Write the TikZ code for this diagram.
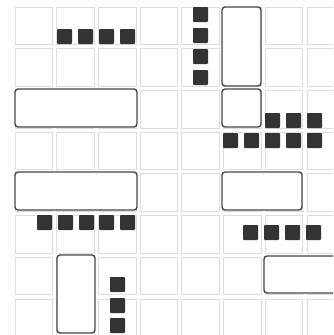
\documentclass[tikz,border=0pt]{standalone}
\begin{document}
\begin{tikzpicture}[x=1pt,y=-1pt,
  cell/.style={draw=black!13,line width=0.8pt,fill=white},
  blk/.style={draw=black!72,line width=1.4pt,fill=white,rounded corners=3pt},
  sq/.style={fill=black!80,rounded corners=0.8pt}]
\useasboundingbox (0,0) rectangle (333,335);
\fill[white] (0,0) rectangle (333,335);
\begin{scope}
\clip (0,0) rectangle (333,335);
\foreach \i in {0,...,7}{
  \foreach \j in {0,...,7}{
    \draw[cell] ({15+41.7*\i},{7+41.7*\j}) rectangle ++(37.5,37.5);
  }
}
% rounded blocks
\draw[blk] (15,89) rectangle (137,127);
\draw[blk] (222,7) rectangle (261,86);
\draw[blk] (222,89) rectangle (261,127);
\draw[blk] (15,172) rectangle (137,210);
\draw[blk] (222,172) rectangle (302,210);
\draw[blk] (264,256) rectangle (350,293);
\draw[blk] (57,255) rectangle (95,333);
% black squares
\foreach \x in {57,78,99,120} \fill[sq] (\x,29) rectangle ++(15,15);
\foreach \y in {7,28,49,70} \fill[sq] (193,\y) rectangle ++(15,15);
\foreach \x in {265,286,307} \fill[sq] (\x,113) rectangle ++(15,15);
\foreach \x in {223,244,265,286,307} \fill[sq] (\x,133) rectangle ++(15,15);
\foreach \x in {37,58,79,99,120} \fill[sq] (\x,215) rectangle ++(15,15);
\foreach \x in {243,264,285,306} \fill[sq] (\x,225) rectangle ++(15,15);
\foreach \y in {277,298,318} \fill[sq] (110,\y) rectangle ++(15,15);
\end{scope}
\end{tikzpicture}
\end{document}
